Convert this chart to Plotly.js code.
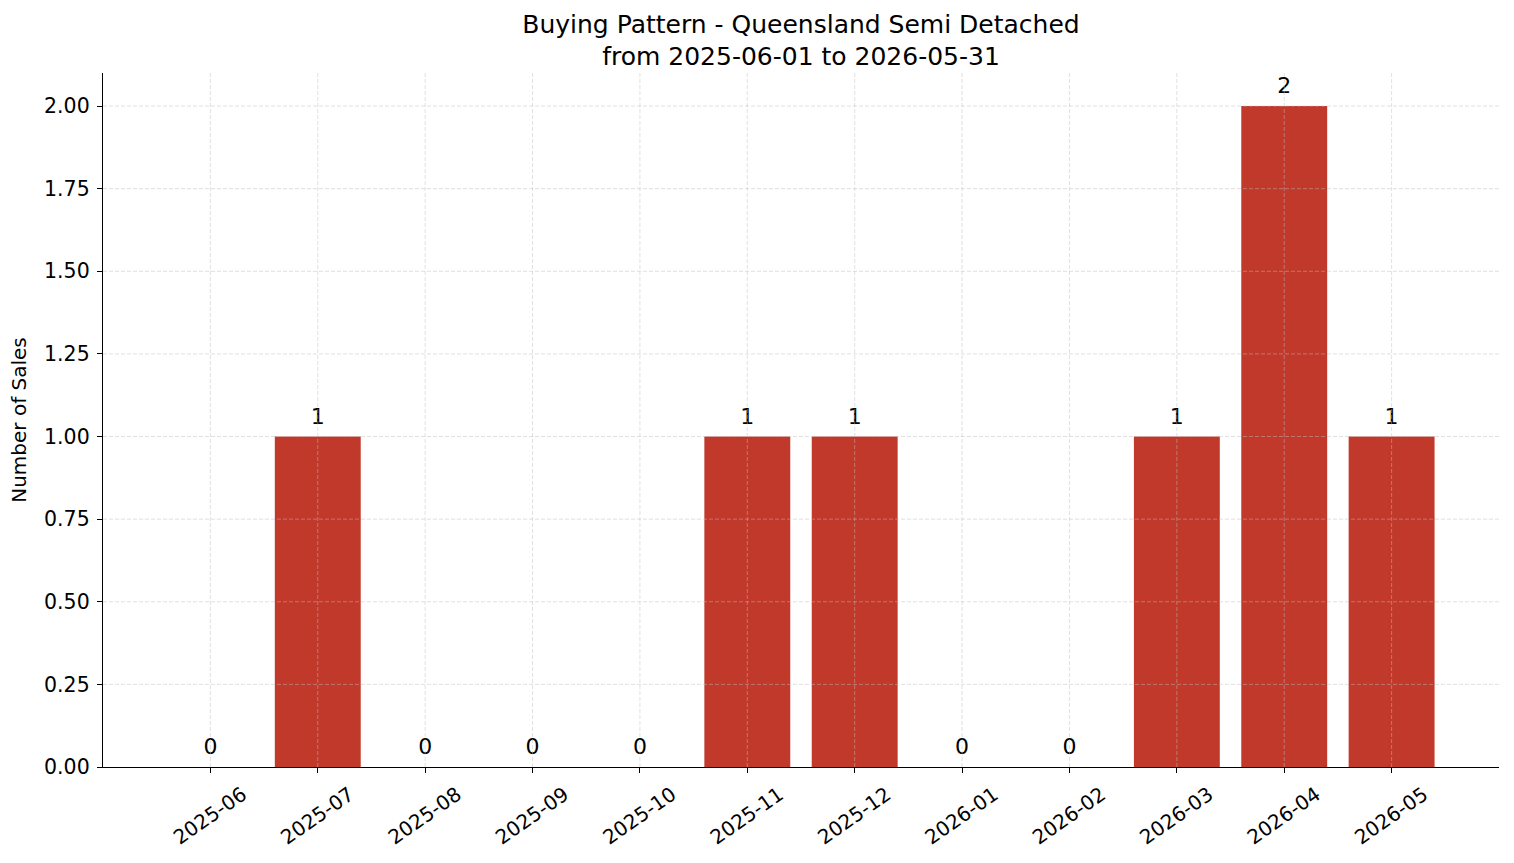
<!DOCTYPE html>
<html>
<head>
<meta charset="utf-8">
<script src="https://cdn.plot.ly/plotly-3.0.1.min.js"></script>
<style>html,body{margin:0;padding:0;background:#fff;}#chart{width:1514px;height:863px;}</style>
</head>
<body>
<div id="chart"></div>
<script>
const months = ["2025-06","2025-07","2025-08","2025-09","2025-10","2025-11","2025-12","2026-01","2026-02","2026-03","2026-04","2026-05"];
const sales = [0,1,0,0,0,1,1,0,0,1,2,1];
const yTicks = [0,0.25,0.5,0.75,1.0,1.25,1.5,1.75,2.0];
const titleText = "Buying Pattern - Queensland Semi Detached<br>from 2025-06-01 to 2026-05-31";
const yTitle = "Number of Sales";

const font = "DejaVu Sans, sans-serif";
const gridColor = "rgba(190,190,190,0.6)";

const shapes = [];
yTicks.slice(1).forEach(v => shapes.push({type:"line", xref:"paper", x0:0, x1:1, yref:"y", y0:v, y1:v, layer:"above", line:{color:gridColor, width:0.8, dash:"4px,2px"}}));
months.forEach(m => shapes.push({type:"line", xref:"x", x0:m, x1:m, yref:"paper", y0:0, y1:1, layer:"above", line:{color:gridColor, width:0.8, dash:"4px,2px"}}));

const data = [
  {type:"bar", x:months, y:sales, marker:{color:"#c0392b"}, width:0.8, hoverinfo:"x+y", showlegend:false},
  {type:"scatter", mode:"markers+text", x:months, y:sales, text:sales.map(String), textposition:"top center",
   marker:{size:10, opacity:0}, textfont:{family:font, size:22, color:"#000"}, showlegend:false, hoverinfo:"skip", cliponaxis:false}
];

const layout = {
  width:1514, height:863,
  margin:{l:103, r:15, t:73, b:96},
  paper_bgcolor:"#fff", plot_bgcolor:"#fff",
  font:{family:font, color:"#000"},
  title:{text:titleText, font:{family:font, size:25, color:"#000"}, x:0.5, xref:"paper", xanchor:"center", y:0.962, yanchor:"top", yref:"container"},
  xaxis:{type:"category", categoryorder:"array", categoryarray:months, range:[-1,12], showgrid:false, zeroline:false,
    showline:true, linecolor:"#000", linewidth:1.2, ticks:"outside", ticklen:5, tickwidth:1, tickcolor:"#000",
    tickangle:-35, tickfont:{family:font, size:20, color:"#000"}, ticklabelshift:32, ticklabelstandoff:2},
  yaxis:{range:[0,2.1], tickvals:yTicks, tickformat:".2f", showgrid:false, zeroline:false,
    showline:true, linecolor:"#000", linewidth:1.2, ticks:"outside", ticklen:5, tickwidth:1, tickcolor:"#000",
    tickfont:{family:font, size:20.5, color:"#000"}, ticklabelstandoff:3,
    title:{text:yTitle, font:{family:font, size:20, color:"#000"}, standoff:12}},
  shapes:shapes,
  bargap:0.2
};

Plotly.newPlot("chart", data, layout, {displayModeBar:false, staticPlot:true});
</script>
</body>
</html>
